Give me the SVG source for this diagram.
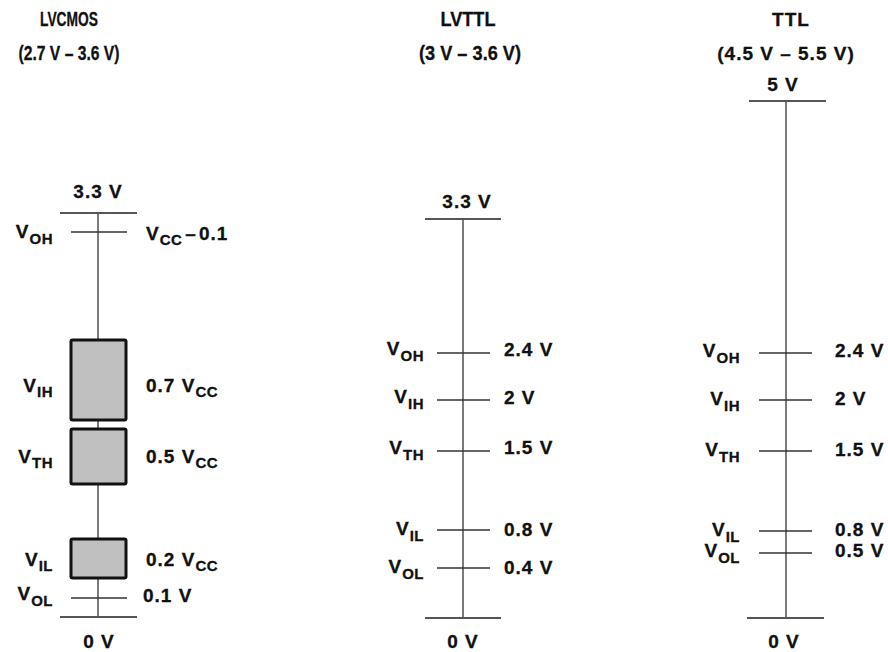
<svg xmlns="http://www.w3.org/2000/svg" width="888" height="652" viewBox="0 0 888 652">
<style>
text{font-family:"Liberation Sans",Arial,sans-serif;font-weight:bold;font-size:19px;fill:#111;stroke:#111;stroke-width:0.3;letter-spacing:1px}
.m{text-anchor:middle}
.e{text-anchor:end}
.cond{letter-spacing:0;font-size:20px}
.sub{font-size:15px;letter-spacing:0.5px}
.axis{stroke:#333;stroke-width:1.3;fill:none}
.tick{stroke:#333;stroke-width:1.3;fill:none}
.bar{stroke:#555;stroke-width:2;fill:none}
.box{fill:#c0c0c0;stroke:#111;stroke-width:3}
</style>
<rect width="888" height="652" fill="#fff"/>

<!-- headers -->
<g id="hdr-lvcmos">
<text class="m cond" x="69" y="26" textLength="58" lengthAdjust="spacingAndGlyphs">LVCMOS</text>
<text class="m cond" x="69" y="60" textLength="101" lengthAdjust="spacingAndGlyphs">(2.7 V – 3.6 V)</text>
</g>
<g id="hdr-lvttl">
<text class="m cond" x="468" y="26" textLength="55" lengthAdjust="spacingAndGlyphs">LVTTL</text>
<text class="m cond" x="470" y="60" textLength="102" lengthAdjust="spacingAndGlyphs">(3 V – 3.6 V)</text>
</g>
<g id="hdr-ttl">
<text class="m" x="791" y="26">TTL</text>
<text class="m" x="786" y="60">(4.5 V – 5.5 V)</text>
</g>

<!-- connectors: axes, supply and ground bars -->
<g id="connectors">
<line class="axis" x1="98" y1="213" x2="98" y2="617"/>
<line class="bar" x1="60" y1="213" x2="137" y2="213"/>
<line class="bar" x1="60" y1="617" x2="137" y2="617"/>
<line class="axis" x1="463" y1="219" x2="463" y2="618"/>
<line class="bar" x1="425" y1="219" x2="501" y2="219"/>
<line class="bar" x1="425" y1="618" x2="501" y2="618"/>
<line class="axis" x1="786" y1="101" x2="786" y2="618"/>
<line class="bar" x1="749" y1="101" x2="826" y2="101"/>
<line class="bar" x1="747" y1="618" x2="824" y2="618"/>
</g>

<!-- LVCMOS column -->
<g id="lvcmos-top"><text class="m" x="98" y="198">3.3 V</text></g>
<g id="lvcmos-voh">
<line class="tick" x1="71" y1="232" x2="127" y2="232"/>
<text class="e" x="53" y="238">V<tspan class="sub" dy="6">OH</tspan></text>
<text x="146" y="240">V<tspan class="sub" dy="5">CC</tspan><tspan dy="-5" dx="3">–</tspan><tspan dx="2">0.1</tspan></text>
</g>
<g id="lvcmos-vih">
<rect class="box" x="71" y="340" width="55" height="80" rx="1.5"/>
<text class="e" x="53" y="392">V<tspan class="sub" dy="5">IH</tspan></text>
<text x="146" y="392">0.7 V<tspan class="sub" dy="5">CC</tspan></text>
</g>
<g id="lvcmos-vth">
<rect class="box" x="71" y="429" width="55" height="55" rx="1.5"/>
<text class="e" x="53" y="463">V<tspan class="sub" dy="5">TH</tspan></text>
<text x="146" y="463">0.5 V<tspan class="sub" dy="5">CC</tspan></text>
</g>
<g id="lvcmos-vil">
<rect class="box" x="71" y="539" width="55" height="39" rx="1.5"/>
<text class="e" x="53" y="566">V<tspan class="sub" dy="5">IL</tspan></text>
<text x="146" y="566">0.2 V<tspan class="sub" dy="5">CC</tspan></text>
</g>
<g id="lvcmos-vol">
<line class="tick" x1="71" y1="598" x2="127" y2="598"/>
<text class="e" x="53" y="600">V<tspan class="sub" dy="6">OL</tspan></text>
<text x="143" y="602">0.1 V</text>
</g>
<g id="lvcmos-gnd"><text class="m" x="99" y="648">0 V</text></g>

<!-- LVTTL column -->
<g id="lvttl-top"><text class="m" x="467" y="208">3.3 V</text></g>
<g id="lvttl-voh">
<line class="tick" x1="437" y1="353" x2="490" y2="353"/>
<text class="e" x="424" y="355">V<tspan class="sub" dy="6">OH</tspan></text>
<text x="504" y="356">2.4 V</text>
</g>
<g id="lvttl-vih">
<line class="tick" x1="437" y1="400" x2="490" y2="400"/>
<text class="e" x="424" y="403">V<tspan class="sub" dy="6">IH</tspan></text>
<text x="504" y="404">2 V</text>
</g>
<g id="lvttl-vth">
<line class="tick" x1="437" y1="451" x2="490" y2="451"/>
<text class="e" x="424" y="454">V<tspan class="sub" dy="6">TH</tspan></text>
<text x="504" y="454">1.5 V</text>
</g>
<g id="lvttl-vil">
<line class="tick" x1="437" y1="530" x2="490" y2="530"/>
<text class="e" x="424" y="535">V<tspan class="sub" dy="6">IL</tspan></text>
<text x="504" y="536">0.8 V</text>
</g>
<g id="lvttl-vol">
<line class="tick" x1="437" y1="568" x2="490" y2="568"/>
<text class="e" x="424" y="573">V<tspan class="sub" dy="6">OL</tspan></text>
<text x="504" y="574">0.4 V</text>
</g>
<g id="lvttl-gnd"><text class="m" x="463" y="648">0 V</text></g>

<!-- TTL column -->
<g id="ttl-top"><text class="m" x="783" y="91">5 V</text></g>
<g id="ttl-voh">
<line class="tick" x1="759" y1="353" x2="812" y2="353"/>
<text class="e" x="740" y="357">V<tspan class="sub" dy="6">OH</tspan></text>
<text x="835" y="357">2.4 V</text>
</g>
<g id="ttl-vih">
<line class="tick" x1="759" y1="400" x2="812" y2="400"/>
<text class="e" x="740" y="405">V<tspan class="sub" dy="6">IH</tspan></text>
<text x="835" y="405">2 V</text>
</g>
<g id="ttl-vth">
<line class="tick" x1="759" y1="451" x2="812" y2="451"/>
<text class="e" x="740" y="456">V<tspan class="sub" dy="6">TH</tspan></text>
<text x="835" y="456">1.5 V</text>
</g>
<g id="ttl-vil">
<line class="tick" x1="759" y1="531" x2="812" y2="531"/>
<text class="e" x="740" y="536">V<tspan class="sub" dy="6">IL</tspan></text>
<text x="835" y="536">0.8 V</text>
</g>
<g id="ttl-vol">
<line class="tick" x1="759" y1="553" x2="812" y2="553"/>
<text class="e" x="740" y="557">V<tspan class="sub" dy="6">OL</tspan></text>
<text x="835" y="557">0.5 V</text>
</g>
<g id="ttl-gnd"><text class="m" x="784" y="648">0 V</text></g>
</svg>
